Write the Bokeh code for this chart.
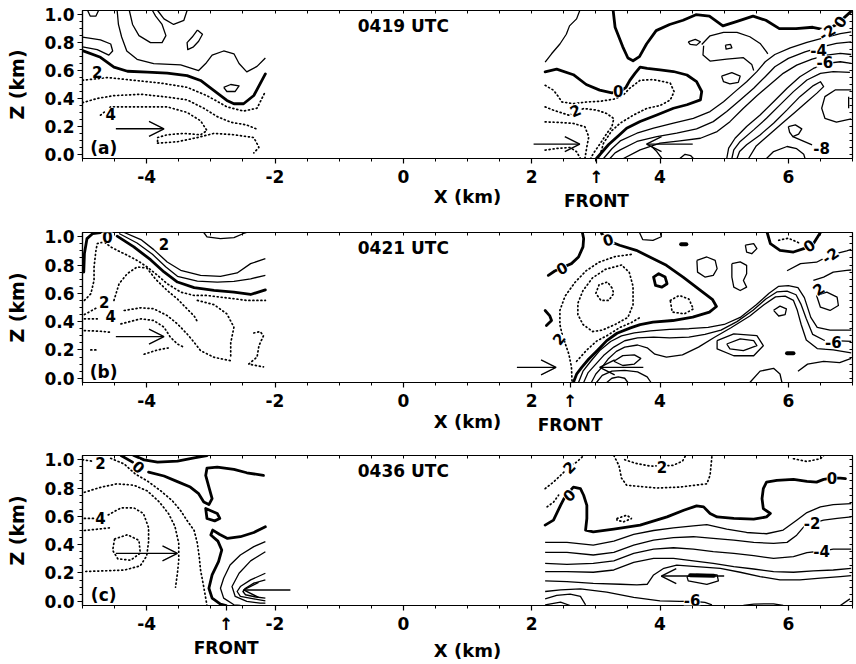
from bokeh.plotting import figure
from bokeh.layouts import column
from bokeh.models import (Range1d, FixedTicker, PrintfTickFormatter, LinearAxis,
                          Arrow, OpenHead, Label, LabelSet, ColumnDataSource)
from bokeh.core.properties import value
from bokeh.embed import file_html
from bokeh.resources import INLINE

FONT = "DejaVu Sans"
X_RANGE = (-5.0, 7.0)
Z_RANGE = (-0.03, 1.03)
X_TICKS = [-4, -2, 0, 2, 4, 6]
X_MINOR = [-5.0, -4.5, -4.0, -3.5, -3.0, -2.5, -2.0, -1.5, -1.0, -0.5, 0.0, 0.5, 1.0,
           1.5, 2.0, 2.5, 3.0, 3.5, 4.0, 4.5, 5.0, 5.5, 6.0, 6.5, 7.0]
Z_TICKS = [0.0, 0.2, 0.4, 0.6, 0.8, 1.0]
Z_MINOR = [0.0, 0.05, 0.1, 0.15, 0.2, 0.25, 0.3, 0.35, 0.4, 0.45, 0.5, 0.55, 0.6,
           0.65, 0.7, 0.75, 0.8, 0.85, 0.9, 0.95, 1.0]
PANEL_TIMES = ["0419 UTC", "0421 UTC", "0436 UTC"]
PANEL_TAGS = ["(a)", "(b)", "(c)"]
FRONT_X = [3.01, 2.60, -2.76]
FRONT_TEXT = "\u2191\nFRONT"

# ---------------- panel (a) 0419 UTC : contours (x km, z km) ----------------
a_zero_left = [(-5.0, 0.743), (-4.72, 0.695), (-4.51, 0.624), (-4.30, 0.595), (-3.99, 0.588),
               (-3.68, 0.581), (-3.37, 0.564), (-3.16, 0.529), (-2.95, 0.457), (-2.75, 0.386),
               (-2.64, 0.362), (-2.49, 0.362), (-2.33, 0.421), (-2.15, 0.576)]
a_zero_right1 = [(2.21, 0.59), (2.39, 0.61), (2.65, 0.57), (2.85, 0.50), (3.06, 0.46), (3.25, 0.44),
                 (3.38, 0.45), (3.47, 0.48), (3.53, 0.53), (3.61, 0.58), (3.69, 0.625), (3.80, 0.615),
                 (4.00, 0.605), (4.21, 0.593), (4.42, 0.568), (4.57, 0.52), (4.65, 0.45), (4.63, 0.39),
                 (4.42, 0.355), (4.21, 0.33), (3.95, 0.282), (3.69, 0.235), (3.48, 0.187), (3.37, 0.14),
                 (3.20, 0.07), (3.01, -0.03)]
a_zero_right2 = [(3.27, 1.03), (3.30, 0.91), (3.42, 0.77), (3.50, 0.69), (3.58, 0.67), (3.68, 0.70),
                 (3.79, 0.79), (3.94, 0.886), (4.15, 0.93), (4.36, 0.96), (4.56, 1.0), (4.77, 0.99),
                 (4.98, 0.92), (5.19, 0.95), (5.45, 0.99), (5.65, 0.96), (5.86, 0.90), (6.12, 0.90),
                 (6.38, 0.91), (6.59, 0.89), (6.75, 0.93), (6.85, 0.97), (6.97, 1.02)]
a_neg_l1 = [(-4.46, 1.03), (-4.44, 0.93), (-4.39, 0.84), (-4.31, 0.74), (-4.15, 0.68), (-3.89, 0.65),
            (-3.47, 0.64), (-3.19, 0.60), (-3.08, 0.65), (-2.98, 0.71), (-2.80, 0.74), (-2.64, 0.72),
            (-2.56, 0.65), (-2.44, 0.59), (-2.28, 0.63), (-2.15, 0.69)]
a_neg_l2 = [(-5.0, 0.77), (-4.77, 0.75), (-4.59, 0.71), (-4.53, 0.74), (-4.56, 0.79), (-4.72, 0.82),
            (-4.87, 0.83), (-5.0, 0.84)]
a_neg_l3 = [(-4.27, 1.03), (-4.22, 0.93), (-4.12, 0.85), (-3.94, 0.80), (-3.76, 0.80), (-3.70, 0.85),
            (-3.76, 0.93), (-3.86, 0.99), (-3.91, 1.03)]
a_neg_l4 = [(-3.83, 1.03), (-3.73, 0.97), (-3.58, 0.93), (-3.42, 0.96), (-3.37, 1.03)]
a_neg_l5 = [(-3.21, 0.89), (-3.13, 0.86), (-3.19, 0.81), (-3.27, 0.77), (-3.36, 0.75), (-3.37, 0.80),
            (-3.29, 0.84), (-3.21, 0.89)]
a_neg_l6 = [(-2.80, 0.48), (-2.69, 0.50), (-2.56, 0.49), (-2.62, 0.45), (-2.75, 0.45), (-2.80, 0.48)]
a_neg_l7 = [(-4.92, 1.03), (-4.88, 0.99), (-4.79, 0.99), (-4.75, 1.03)]
a_neg_r0 = [(2.21, 0.66), (2.31, 0.72), (2.44, 0.79), (2.54, 0.86), (2.59, 0.92), (2.70, 0.97), (2.75, 1.03)]
a_neg_r1 = [(3.12, -0.03), (3.25, 0.04), (3.38, 0.096), (3.64, 0.151), (3.90, 0.187), (4.21, 0.223),
            (4.52, 0.258), (4.78, 0.306), (4.99, 0.377), (5.17, 0.449), (5.35, 0.52), (5.51, 0.592),
            (5.64, 0.663), (5.79, 0.715), (6.03, 0.763), (6.29, 0.801), (6.55, 0.834), (6.81, 0.865),
            (6.98, 0.877)]
a_neg_r2 = [(3.22, -0.03), (3.30, 0.01), (3.38, 0.032), (3.64, 0.092), (3.95, 0.127), (4.26, 0.151),
            (4.57, 0.182), (4.83, 0.234), (5.04, 0.306), (5.25, 0.389), (5.46, 0.473), (5.64, 0.556),
            (5.79, 0.627), (6.00, 0.687), (6.26, 0.734), (6.52, 0.77), (6.75, 0.794), (6.98, 0.806)]
a_neg_r3 = [(3.43, -0.03), (3.69, 0.032), (4.0, 0.08), (4.31, 0.096), (4.63, 0.115), (4.89, 0.163),
            (5.09, 0.234), (5.30, 0.33), (5.51, 0.42), (5.72, 0.501), (5.92, 0.58), (6.13, 0.639),
            (6.37, 0.682), (6.60, 0.711), (6.81, 0.723), (6.98, 0.715)]
a_neg_r4 = [(5.04, -0.03), (5.07, 0.044), (5.17, 0.115), (5.35, 0.199), (5.56, 0.282), (5.77, 0.377),
            (5.98, 0.473), (6.18, 0.556), (6.39, 0.615), (6.60, 0.651), (6.81, 0.663), (6.98, 0.651)]
a_neg_r5 = [(5.12, -0.03), (5.15, 0.032), (5.25, 0.092), (5.46, 0.175), (5.66, 0.258), (5.87, 0.354),
            (6.08, 0.449), (6.29, 0.532), (6.50, 0.58), (6.70, 0.592), (6.96, 0.587)]
a_neg_r6 = [(5.20, -0.03), (5.24, 0.02), (5.35, 0.068), (5.56, 0.139), (5.77, 0.223), (5.98, 0.318),
            (6.18, 0.413), (6.39, 0.492), (6.50, 0.52), (6.55, 0.485), (6.45, 0.44), (6.30, 0.38),
            (6.10, 0.30), (5.90, 0.22), (5.70, 0.14), (5.50, 0.06), (5.38, -0.03)]
a_neg_r7 = [(4.65, 0.787), (4.78, 0.849), (4.99, 0.873), (5.20, 0.873), (5.40, 0.842), (5.56, 0.794),
            (5.66, 0.734), (5.68, 0.72)]
a_neg_r8 = [(4.68, 0.777), (4.67, 0.711), (4.78, 0.668), (5.04, 0.682), (5.30, 0.692), (5.43, 0.644),
            (5.46, 0.60)]
a_neg_r9 = [(4.44, 0.806), (4.55, 0.823), (4.63, 0.806), (4.57, 0.782), (4.47, 0.787), (4.44, 0.806)]
a_neg_r10 = [(4.96, 0.56), (5.12, 0.585), (5.25, 0.56), (5.22, 0.515), (5.09, 0.505), (4.99, 0.52),
             (4.96, 0.56)]
a_neg_r11 = [(5.02, 0.782), (5.10, 0.787), (5.12, 0.763), (5.03, 0.754), (5.02, 0.782)]
a_neg_r12 = [(6.98, 0.461), (6.73, 0.461), (6.57, 0.413), (6.52, 0.33), (6.57, 0.258), (6.75, 0.23),
             (6.98, 0.254)]
a_neg_r13 = [(6.94, 0.413), (6.94, 0.33)]
a_neg_r14 = [(6.0, 0.199), (6.11, 0.211), (6.21, 0.182), (6.16, 0.144), (6.07, 0.127), (6.02, 0.158),
             (6.0, 0.199)]
a_neg_r15 = [(6.07, 0.127), (6.37, 0.068)]
a_neg_r16 = [(5.66, -0.03), (5.77, 0.02), (5.98, 0.056), (6.13, 0.04), (6.24, 0.0), (6.26, -0.03)]
a_neg_r17 = [(4.31, -0.03), (4.39, 0.0), (4.48, -0.01), (4.52, -0.03)]
a_neg_r18 = [(3.87, 0.056), (3.95, 0.02), (4.03, -0.03)]
a_pos_l1 = [(-5.0, 0.53), (-4.61, 0.55), (-4.20, 0.53), (-3.78, 0.51), (-3.37, 0.48), (-3.06, 0.42),
            (-2.75, 0.34), (-2.49, 0.31), (-2.28, 0.33), (-2.15, 0.45)]
a_pos_l2 = [(-5.0, 0.37), (-4.77, 0.40), (-4.51, 0.42), (-4.09, 0.43), (-3.68, 0.41), (-3.37, 0.39),
            (-3.11, 0.33), (-2.90, 0.27), (-2.69, 0.23), (-2.44, 0.21), (-2.28, 0.18)]
a_pos_l3 = [(-4.72, 0.28), (-4.56, 0.34), (-4.30, 0.34), (-3.99, 0.34), (-3.68, 0.34), (-3.37, 0.30),
            (-3.16, 0.24), (-3.06, 0.17), (-3.16, 0.14), (-3.42, 0.15), (-3.68, 0.14), (-3.83, 0.12),
            (-3.83, 0.08)]
a_pos_l4 = [(-3.83, 0.08), (-3.52, 0.09), (-3.21, 0.12), (-2.95, 0.15), (-2.64, 0.14), (-2.33, 0.12),
            (-2.25, 0.05), (-2.33, 0.01)]
a_pos_r1 = [(2.21, 0.494), (2.34, 0.459), (2.42, 0.411), (2.47, 0.375), (2.65, 0.363), (2.86, 0.375),
            (3.07, 0.38), (3.28, 0.395), (3.42, 0.42), (3.52, 0.47), (3.69, 0.53), (3.90, 0.535),
            (4.16, 0.51), (4.22, 0.449), (4.16, 0.389), (4.0, 0.349), (3.80, 0.33), (3.59, 0.282),
            (3.38, 0.223), (3.25, 0.17), (3.12, 0.08), (3.05, -0.03)]
a_pos_r2 = [(2.21, 0.34), (2.34, 0.316), (2.50, 0.292), (2.58, 0.28), (2.81, 0.328), (3.02, 0.316),
            (3.17, 0.292), (3.28, 0.256), (3.25, 0.197), (3.17, 0.149), (3.07, 0.078), (2.96, 0.006),
            (2.92, -0.03)]
a_pos_r3 = [(2.21, 0.232), (2.445, 0.228), (2.65, 0.221), (2.83, 0.197), (2.89, 0.125), (2.86, 0.054),
            (2.83, -0.03)]
a_pos_r4 = [(2.21, 0.03), (2.39, 0.042), (2.60, 0.049), (2.70, 0.018), (2.76, -0.03)]
a_label_text = ["4", "2", "0", "2", "0", "-2", "-4", "-6", "-8"]
a_label_x = [-4.56, -4.77, 3.35, 2.68, 6.80, 6.60, 6.47, 6.57, 6.52]
a_label_z = [0.29, 0.59, 0.45, 0.316, 0.95, 0.875, 0.746, 0.663, 0.044]
a_label_angle = [0.0, 0.0, 0.0, 0.4, 1.0, 0.6, 0.0, 0.0, 0.0]
a_arrows = [(-4.48, 0.183, -3.73, 0.183), (2.03, 0.073, 2.75, 0.073), (4.51, 0.073, 3.79, 0.073)]

# ---------------- panel (b) 0421 UTC ----------------
b_zero_l1 = [(-4.98, 0.751), (-4.97, 0.881), (-4.93, 0.987), (-4.84, 1.023), (-4.72, 1.03)]
b_zero_l2 = [(-4.46, 1.004), (-4.20, 0.928), (-3.94, 0.838), (-3.73, 0.751), (-3.52, 0.680), (-3.26, 0.640),
             (-2.95, 0.621), (-2.64, 0.609), (-2.38, 0.592), (-2.15, 0.625)]
b_zero_r1 = [(2.26, 0.727), (2.36, 0.758), (2.49, 0.785), (2.62, 0.81), (2.73, 0.857), (2.80, 0.928),
             (2.81, 0.987), (2.79, 1.03)]
b_zero_r2 = [(2.21, 0.479), (2.28, 0.443), (2.31, 0.408), (2.23, 0.372)]
b_zero_r3 = [(2.65, -0.03), (2.70, 0.029), (2.78, 0.077), (2.89, 0.136), (3.02, 0.195), (3.17, 0.266),
             (3.33, 0.318), (3.54, 0.356), (3.69, 0.379), (3.89, 0.396), (4.20, 0.408), (4.51, 0.432),
             (4.77, 0.467), (4.88, 0.507), (4.82, 0.555), (4.62, 0.625), (4.36, 0.715), (4.10, 0.798),
             (3.84, 0.857), (3.63, 0.904), (3.37, 0.94), (3.24, 0.963), (3.17, 0.98), (3.09, 1.023)]
b_zero_r4 = [(3.90, 0.715), (3.98, 0.739), (4.08, 0.715), (4.11, 0.668), (4.03, 0.644), (3.93, 0.656),
             (3.90, 0.715)]
b_zero_r5 = [(5.67, 1.03), (5.72, 0.951), (5.87, 0.904), (6.08, 0.892), (6.24, 0.916), (6.39, 0.951),
             (6.50, 1.03)]
b_neg_l1 = [(-4.43, 1.023), (-4.15, 0.956), (-3.91, 0.876), (-3.70, 0.786), (-3.52, 0.72), (-3.21, 0.687),
            (-2.90, 0.68), (-2.64, 0.685), (-2.38, 0.703), (-2.15, 0.727)]
b_neg_l2 = [(-4.35, 1.03), (-4.09, 0.98), (-3.89, 0.909), (-3.68, 0.822), (-3.47, 0.763), (-3.16, 0.727),
            (-2.85, 0.72), (-2.59, 0.744), (-2.38, 0.81), (-2.15, 0.845)]
b_neg_l3 = [(-3.11, 1.03), (-3.06, 0.999), (-2.85, 0.987), (-2.64, 0.994), (-2.49, 1.023), (-2.44, 1.03)]
b_neg_r1 = [(2.73, -0.03), (2.80, 0.05), (2.92, 0.12), (3.07, 0.20), (3.23, 0.26), (3.40, 0.30), (3.60, 0.32),
            (3.85, 0.335), (4.15, 0.345), (4.45, 0.35), (4.75, 0.36), (5.00, 0.38), (5.25, 0.43),
            (5.50, 0.52), (5.70, 0.60), (5.85, 0.65), (6.00, 0.655), (6.15, 0.64), (6.25, 0.57),
            (6.35, 0.43), (6.45, 0.36), (6.65, 0.34), (6.98, 0.34)]
b_neg_r2 = [(2.81, -0.03), (2.88, 0.04), (3.00, 0.10), (3.12, 0.16), (3.28, 0.22), (3.45, 0.265),
            (3.65, 0.285), (3.90, 0.29), (4.15, 0.285), (4.45, 0.29), (4.70, 0.31), (4.95, 0.34),
            (5.20, 0.40), (5.45, 0.48), (5.65, 0.56), (5.82, 0.61), (5.98, 0.615), (6.12, 0.59),
            (6.20, 0.52), (6.28, 0.42), (6.38, 0.31), (6.55, 0.27), (6.98, 0.26)]
b_neg_r3 = [(2.93, -0.03), (3.0, 0.03), (3.10, 0.08), (3.20, 0.14), (3.32, 0.19), (3.45, 0.22), (3.65, 0.235),
            (3.80, 0.215), (3.92, 0.17), (4.10, 0.15), (4.35, 0.165), (4.60, 0.22), (4.85, 0.29),
            (5.10, 0.355), (5.40, 0.44), (5.62, 0.52), (5.80, 0.575), (5.95, 0.58), (6.08, 0.55),
            (6.14, 0.48), (6.20, 0.38), (6.28, 0.27), (6.45, 0.21), (6.70, 0.20), (6.98, 0.18)]
b_neg_r4 = [(3.28, 0.12), (3.42, 0.16), (3.60, 0.165), (3.70, 0.14), (3.60, 0.10), (3.42, 0.09), (3.28, 0.12)]
b_neg_r5 = [(3.01, -0.03), (3.10, 0.02), (3.25, 0.05), (3.45, 0.055), (3.65, 0.045), (3.80, 0.01), (3.86, -0.03)]
b_neg_r6 = [(3.17, -0.03), (3.25, 0.0), (3.35, 0.01), (3.45, 0.0), (3.50, -0.03)]
b_neg_r7 = [(5.04, 0.242), (5.25, 0.278), (5.46, 0.266), (5.51, 0.23), (5.30, 0.195), (5.09, 0.207), (5.04, 0.242)]
b_neg_r8 = [(4.89, 0.266), (5.15, 0.313), (5.51, 0.301), (5.61, 0.23), (5.46, 0.159), (5.15, 0.159),
            (4.89, 0.207), (4.89, 0.266)]
b_neg_r9 = [(5.77, 0.48), (5.87, 0.51), (5.97, 0.49), (5.95, 0.45), (5.85, 0.44), (5.77, 0.48)]
b_neg_r10 = [(4.575, 0.833), (4.73, 0.857), (4.86, 0.833), (4.89, 0.774), (4.83, 0.727), (4.70, 0.715),
             (4.585, 0.75), (4.575, 0.833)]
b_neg_r11 = [(5.12, 0.81), (5.25, 0.822), (5.35, 0.798), (5.35, 0.739), (5.30, 0.691), (5.35, 0.644),
             (5.25, 0.62), (5.15, 0.644), (5.12, 0.715), (5.12, 0.81)]
b_neg_r12 = [(5.33, 0.94), (5.46, 0.951), (5.51, 0.916), (5.43, 0.88), (5.35, 0.892), (5.33, 0.94)]
b_neg_r13 = [(3.68, 1.03), (3.73, 0.98), (3.89, 0.975), (4.02, 1.0), (4.02, 1.03)]
b_neg_r14 = [(5.98, 0.76), (6.19, 0.81), (6.44, 0.82), (6.65, 0.87), (6.91, 0.90), (6.98, 0.91)]
b_neg_r15 = [(6.44, 0.585), (6.60, 0.609), (6.76, 0.573), (6.78, 0.514), (6.65, 0.479), (6.50, 0.502), (6.44, 0.585)]
b_neg_r16 = [(6.39, 0.691), (6.55, 0.715), (6.70, 0.75), (6.91, 0.762), (6.98, 0.765)]
b_neg_r17 = [(6.15, 0.05), (6.30, 0.10), (6.55, 0.12), (6.80, 0.11), (6.98, 0.14)]
b_neg_r18 = [(5.40, -0.03), (5.56, 0.05), (5.77, 0.07), (5.87, 0.03), (5.90, -0.03)]
b_blob1 = [(5.98, 0.176), (6.08, 0.176)]
b_blob2 = [(4.33, 0.947), (4.41, 0.947)]
b_pos_l1 = [(-4.97, 0.55), (-4.87, 0.597), (-4.82, 0.692), (-4.82, 0.786), (-4.79, 0.904), (-4.77, 0.952),
            (-4.66, 0.963), (-4.56, 0.928), (-4.46, 0.904), (-4.30, 0.869), (-4.15, 0.833), (-3.99, 0.786),
            (-3.83, 0.727), (-3.68, 0.668), (-3.47, 0.609), (-3.26, 0.585), (-3.06, 0.585), (-2.85, 0.573),
            (-2.64, 0.562), (-2.44, 0.55), (-2.15, 0.55)]
b_pos_l2 = [(-4.97, 0.45), (-4.77, 0.50)]
b_pos_l3 = [(-4.51, 0.55), (-4.43, 0.668), (-4.30, 0.74), (-4.15, 0.786), (-4.0, 0.78), (-3.86, 0.70),
            (-3.68, 0.62), (-3.52, 0.56), (-3.37, 0.49), (-3.26, 0.44), (-3.21, 0.40)]
b_pos_l4 = [(-4.97, 0.42), (-4.77, 0.42)]
b_pos_l5 = [(-4.35, 0.479), (-4.09, 0.498), (-3.89, 0.491), (-3.68, 0.443), (-3.52, 0.384), (-3.37, 0.313),
            (-3.26, 0.254), (-3.16, 0.195), (-2.95, 0.148), (-2.69, 0.124)]
b_pos_l6 = [(-4.40, 0.384), (-4.09, 0.42), (-3.89, 0.408), (-3.73, 0.361), (-3.63, 0.29), (-3.52, 0.242),
            (-3.42, 0.219)]
b_pos_l7 = [(-4.97, 0.337), (-4.72, 0.332), (-4.56, 0.325)]
b_pos_l8 = [(-4.04, 0.17), (-3.83, 0.20), (-3.65, 0.215)]
b_pos_l9 = [(-3.21, 0.55), (-2.95, 0.52), (-2.75, 0.455), (-2.64, 0.361), (-2.69, 0.25), (-2.69, 0.15)]
b_pos_l10 = [(-2.33, 0.32), (-2.23, 0.33), (-2.18, 0.30), (-2.25, 0.23), (-2.28, 0.15), (-2.41, 0.10), (-2.18, 0.08)]
b_pos_l11 = [(-4.87, 0.20), (-4.77, 0.20)]
b_pos_r1 = [(2.70, 0.12), (2.86, 0.20), (3.02, 0.265), (3.17, 0.30), (3.38, 0.36), (3.56, 0.395), (3.69, 0.43)]
b_pos_r2 = [(3.55, 0.875), (3.30, 0.86), (3.05, 0.82), (2.85, 0.76), (2.68, 0.68), (2.52, 0.58), (2.44, 0.48),
            (2.44, 0.38), (2.47, 0.32), (2.52, 0.25), (2.58, 0.17), (2.62, 0.08), (2.63, -0.03)]
b_pos_r3 = [(3.40, 0.80), (3.15, 0.77), (2.95, 0.71), (2.80, 0.62), (2.72, 0.53), (2.72, 0.45), (2.80, 0.38),
            (2.95, 0.33), (3.10, 0.34), (3.30, 0.38), (3.50, 0.43), (3.58, 0.52), (3.58, 0.65), (3.52, 0.75),
            (3.40, 0.80)]
b_pos_r4 = [(3.25, 0.64), (3.18, 0.68), (3.05, 0.66), (3.00, 0.60), (3.08, 0.55), (3.20, 0.55), (3.28, 0.60),
            (3.25, 0.64)]
b_pos_r5 = [(4.16, 0.55), (4.30, 0.585), (4.45, 0.56), (4.52, 0.49), (4.38, 0.455), (4.19, 0.468), (4.16, 0.55)]
b_pos_r6 = [(5.85, 0.975), (6.0, 0.99), (6.2, 0.95)]
b_label_text = ["0", "2", "4", "2", "0", "2", "0", "0", "-2", "2", "-6"]
b_label_x = [-4.61, -4.66, -4.56, -3.73, 2.47, 2.42, 3.19, 6.32, 6.65, 6.47, 6.70]
b_label_z = [1.0, 0.538, 0.443, 0.95, 0.78, 0.28, 0.98, 0.94, 0.87, 0.632, 0.254]
b_label_angle = [0.0, 0.0, 0.0, 0.0, 0.5, 0.9, 0.3, 0.6, 0.6, 0.6, 0.0]
b_arrows = [(-4.48, 0.294, -3.73, 0.294), (1.77, 0.077, 2.38, 0.077), (3.74, 0.077, 3.06, 0.077)]

# ---------------- panel (c) 0436 UTC ----------------
c_zero_l1 = [(-4.40, 1.03), (-4.22, 0.983)]
c_zero_l2 = [(-4.20, 1.03), (-4.04, 0.999), (-3.83, 0.983), (-3.52, 0.99), (-3.26, 1.013), (-3.06, 1.03)]
c_zero_l3 = [(-3.97, 0.913), (-3.73, 0.885), (-3.53, 0.847), (-3.32, 0.807), (-3.19, 0.76), (-3.11, 0.702),
             (-3.03, 0.683), (-2.98, 0.725), (-3.03, 0.807), (-3.08, 0.889), (-3.06, 0.941), (-2.90, 0.948),
             (-2.64, 0.932), (-2.44, 0.908), (-2.18, 0.889)]
c_zero_l4 = [(-3.08, 0.655), (-2.90, 0.62), (-2.86, 0.585), (-2.94, 0.568), (-3.06, 0.585), (-3.08, 0.655)]
c_zero_l5 = [(-2.15, 0.526), (-2.33, 0.486), (-2.54, 0.456), (-2.74, 0.444), (-2.86, 0.472), (-2.97, 0.503),
             (-3.0, 0.468), (-2.89, 0.425), (-2.83, 0.362), (-2.88, 0.28), (-2.98, 0.186), (-3.03, 0.092),
             (-2.98, 0.022), (-2.85, -0.02), (-2.76, -0.03)]
c_zero_r1 = [(2.21, 0.538), (2.34, 0.573), (2.45, 0.678), (2.52, 0.74), (2.65, 0.807), (2.76, 0.796),
             (2.81, 0.749), (2.86, 0.678), (2.86, 0.585), (2.84, 0.503), (2.96, 0.491), (3.28, 0.51),
             (3.69, 0.538), (4.11, 0.596), (4.37, 0.643), (4.57, 0.674), (4.68, 0.667), (4.78, 0.62),
             (4.89, 0.596), (5.15, 0.585), (5.46, 0.58), (5.66, 0.596), (5.72, 0.62), (5.61, 0.655),
             (5.59, 0.725), (5.61, 0.796), (5.66, 0.842), (5.82, 0.854), (6.08, 0.861), (6.29, 0.847),
             (6.44, 0.842), (6.55, 0.861), (6.68, 0.87), (6.81, 0.87), (6.89, 0.866)]
c_neg_l1 = [(-2.15, 0.421), (-2.33, 0.386), (-2.54, 0.327), (-2.70, 0.256), (-2.80, 0.163), (-2.85, 0.092),
            (-2.80, 0.022), (-2.64, -0.025), (-2.54, -0.03)]
c_neg_l2 = [(-2.15, 0.35), (-2.38, 0.285), (-2.56, 0.198), (-2.67, 0.104), (-2.62, 0.034), (-2.44, -0.001),
            (-2.23, -0.013), (-2.15, -0.013)]
c_neg_l3 = [(-2.15, 0.198), (-2.38, 0.151), (-2.54, 0.104), (-2.59, 0.069), (-2.54, 0.034), (-2.33, 0.017),
            (-2.15, 0.003)]
c_neg_l4 = [(-2.15, 0.151), (-2.33, 0.128), (-2.46, 0.092), (-2.50, 0.069), (-2.46, 0.046), (-2.30, 0.030),
            (-2.15, 0.022)]
c_neg_r1 = [(2.21, 0.416), (2.55, 0.416), (2.96, 0.397), (3.28, 0.425), (3.59, 0.472), (3.90, 0.50),
            (4.21, 0.519), (4.52, 0.533), (4.73, 0.542), (5.04, 0.51), (5.35, 0.486), (5.66, 0.477),
            (5.92, 0.503), (6.13, 0.573), (6.29, 0.627), (6.50, 0.667), (6.70, 0.683), (6.98, 0.69)]
c_neg_r2 = [(2.21, 0.346), (2.55, 0.346), (2.96, 0.327), (3.28, 0.346), (3.59, 0.397), (3.90, 0.432),
            (4.21, 0.449), (4.52, 0.456), (4.83, 0.444), (5.15, 0.432), (5.46, 0.416), (5.77, 0.409),
            (5.98, 0.416), (6.13, 0.467), (6.24, 0.526), (6.37, 0.55), (6.55, 0.573), (6.76, 0.585),
            (6.98, 0.596)]
c_neg_r3 = [(2.21, 0.268), (2.55, 0.261), (2.96, 0.268), (3.28, 0.285), (3.59, 0.338), (3.90, 0.369),
            (4.21, 0.378), (4.52, 0.369), (4.83, 0.35), (5.15, 0.338), (5.46, 0.322), (5.77, 0.303),
            (6.08, 0.315), (6.29, 0.343), (6.52, 0.355), (6.70, 0.369), (6.98, 0.369)]
c_neg_r4 = [(2.21, 0.21), (2.55, 0.21), (2.96, 0.205), (3.28, 0.221), (3.59, 0.275), (3.90, 0.303),
            (4.21, 0.303), (4.52, 0.285), (4.83, 0.268), (5.15, 0.245), (5.46, 0.228), (5.77, 0.21),
            (6.08, 0.205), (6.39, 0.214), (6.70, 0.221), (6.98, 0.233)]
c_neg_r5 = [(2.21, 0.144), (2.55, 0.139), (2.96, 0.127), (3.38, 0.12), (3.64, 0.116), (3.80, 0.12),
            (3.90, 0.186), (4.06, 0.233), (4.26, 0.256), (4.57, 0.245), (4.94, 0.233), (5.25, 0.205),
            (5.56, 0.174), (5.87, 0.151), (6.18, 0.151), (6.50, 0.163), (6.81, 0.174), (6.98, 0.181)]
c_neg_r6 = [(2.21, 0.069), (2.45, 0.081), (2.76, 0.088), (3.17, 0.064), (3.59, 0.027), (4.0, 0.003),
            (4.31, -0.001), (4.50, 0.0), (4.70, -0.008), (4.81, -0.025)]
c_neg_r7 = [(2.21, 0.017), (2.39, 0.041), (2.60, 0.05), (2.76, 0.034), (2.84, -0.025)]
c_neg_r8 = [(2.21, -0.025), (2.45, -0.006), (2.60, -0.03)]
c_neg_r9 = [(5.30, -0.03), (5.46, -0.02), (5.77, -0.018), (5.92, -0.03)]
c_neg_r10 = [(6.81, -0.03), (6.96, 0.017)]
c_neg_r11 = [(4.42, 0.174), (4.57, 0.19), (4.89, 0.186), (4.91, 0.144), (4.73, 0.12), (4.44, 0.144), (4.42, 0.174)]
c_blob1 = [(4.47, 0.183), (4.84, 0.180)]
c_pos_l1 = [(-4.56, 1.01), (-4.35, 0.97), (-4.18, 0.90), (-3.99, 0.85), (-3.78, 0.78), (-3.60, 0.71),
            (-3.47, 0.64), (-3.37, 0.57), (-3.26, 0.50), (-3.21, 0.41), (-3.18, 0.31), (-3.16, 0.22),
            (-3.11, 0.10), (-3.06, -0.03)]
c_pos_l2 = [(-5.0, 1.0), (-4.85, 0.99)]
c_pos_l3 = [(-4.97, 0.77), (-4.72, 0.805), (-4.46, 0.83), (-4.20, 0.82), (-3.99, 0.78), (-3.80, 0.70),
            (-3.66, 0.62), (-3.56, 0.53), (-3.50, 0.41), (-3.50, 0.29), (-3.52, 0.20), (-3.55, 0.10)]
c_pos_l4 = [(-4.97, 0.585), (-4.82, 0.585)]
c_pos_l5 = [(-4.60, 0.61), (-4.40, 0.66), (-4.20, 0.66), (-4.05, 0.62), (-3.97, 0.52), (-3.97, 0.42),
            (-4.00, 0.32), (-4.10, 0.25), (-4.35, 0.22), (-4.65, 0.215), (-4.97, 0.21)]
c_pos_l6 = [(-4.50, 0.44), (-4.30, 0.47), (-4.12, 0.43), (-4.10, 0.34), (-4.25, 0.29), (-4.45, 0.30),
            (-4.53, 0.36), (-4.50, 0.44)]
c_pos_l7 = [(-4.97, 0.50), (-4.75, 0.51), (-4.55, 0.52)]
c_pos_r1 = [(2.21, 0.796), (2.34, 0.842), (2.45, 0.889), (2.58, 0.948), (2.70, 0.983), (2.81, 1.03)]
c_pos_r2 = [(2.24, 0.667), (2.34, 0.70), (2.42, 0.75)]
c_pos_r3 = [(3.28, 1.03), (3.36, 0.96), (3.40, 0.87), (3.48, 0.82), (3.95, 0.80), (4.31, 0.807),
            (4.73, 0.83), (4.78, 0.89), (4.80, 0.98), (4.81, 1.03)]
c_pos_r4 = [(3.45, 1.0), (3.62, 0.975), (3.85, 0.955), (4.20, 0.96), (4.35, 0.99), (4.40, 1.03)]
c_pos_r5 = [(6.08, 1.007), (6.29, 0.988), (6.50, 1.007), (6.55, 1.03)]
c_pos_r6 = [(3.33, 0.585), (3.48, 0.608), (3.56, 0.585), (3.43, 0.561), (3.33, 0.573), (3.33, 0.585)]
c_label_text = ["2", "0", "4", "2", "0", "2", "0", "-2", "-4", "-6"]
c_label_x = [-4.72, -4.12, -4.72, 2.58, 2.58, 4.03, 6.68, 6.37, 6.52, 4.50]
c_label_z = [0.98, 0.95, 0.585, 0.948, 0.75, 0.948, 0.87, 0.55, 0.355, 0.01]
c_label_angle = [0.0, -0.7, 0.0, 0.8, 0.8, 0.0, 0.0, 0.0, 0.0, 0.0]
c_arrows = [(-4.48, 0.338, -3.52, 0.338), (-1.76, 0.08, -2.49, 0.08), (5.0, 0.178, 4.02, 0.178)]

# grouping by line style
A_THICK = [a_zero_left, a_zero_right1, a_zero_right2]
A_THIN = [a_neg_l1, a_neg_l2, a_neg_l3, a_neg_l4, a_neg_l5, a_neg_l6, a_neg_l7, a_neg_r0, a_neg_r1,
          a_neg_r2, a_neg_r3, a_neg_r4, a_neg_r5, a_neg_r6, a_neg_r7, a_neg_r8, a_neg_r9, a_neg_r10,
          a_neg_r11, a_neg_r12, a_neg_r13, a_neg_r14, a_neg_r15, a_neg_r16, a_neg_r17, a_neg_r18]
A_DOT = [a_pos_l1, a_pos_l2, a_pos_l3, a_pos_l4, a_pos_r1, a_pos_r2, a_pos_r3, a_pos_r4]
A_BLOB = []
B_THICK = [b_zero_l1, b_zero_l2, b_zero_r1, b_zero_r2, b_zero_r3, b_zero_r4, b_zero_r5]
B_THIN = [b_neg_l1, b_neg_l2, b_neg_l3, b_neg_r1, b_neg_r2, b_neg_r3, b_neg_r4, b_neg_r5, b_neg_r6,
          b_neg_r7, b_neg_r8, b_neg_r9, b_neg_r10, b_neg_r11, b_neg_r12, b_neg_r13, b_neg_r14,
          b_neg_r15, b_neg_r16, b_neg_r17, b_neg_r18]
B_DOT = [b_pos_l1, b_pos_l2, b_pos_l3, b_pos_l4, b_pos_l5, b_pos_l6, b_pos_l7, b_pos_l8, b_pos_l9,
         b_pos_l10, b_pos_l11, b_pos_r1, b_pos_r2, b_pos_r3, b_pos_r4, b_pos_r5, b_pos_r6]
B_BLOB = [b_blob1, b_blob2]
C_THICK = [c_zero_l1, c_zero_l2, c_zero_l3, c_zero_l4, c_zero_l5, c_zero_r1]
C_THIN = [c_neg_l1, c_neg_l2, c_neg_l3, c_neg_l4, c_neg_r1, c_neg_r2, c_neg_r3, c_neg_r4, c_neg_r5,
          c_neg_r6, c_neg_r7, c_neg_r8, c_neg_r9, c_neg_r10, c_neg_r11]
C_DOT = [c_pos_l1, c_pos_l2, c_pos_l3, c_pos_l4, c_pos_l5, c_pos_l6, c_pos_l7, c_pos_r1, c_pos_r2,
         c_pos_r3, c_pos_r4, c_pos_r5, c_pos_r6]
C_BLOB = [c_blob1]


def xs_zs(lines):
    return [[pt[0] for pt in ln] for ln in lines], [[pt[1] for pt in ln] for ln in lines]


def build(idx, thick, thin, dot, blob, ltext, lx, lz, lang, arrows, height, top, bottom, xlab_standoff):
    p = figure(width=854, height=height, x_range=Range1d(*X_RANGE), y_range=Range1d(*Z_RANGE),
               output_backend="svg", toolbar_location=None,
               min_border_left=82, min_border_right=2, min_border_top=top, min_border_bottom=bottom)
    p.grid.visible = False
    p.outline_line_color = "black"
    p.outline_line_width = 1.2
    p.background_fill_color = "white"
    p.border_fill_color = "white"

    # bottom axis: numbers, plus the front marker under its position
    fx = FRONT_X[idx]
    p.xaxis.ticker = FixedTicker(ticks=X_TICKS + [fx], minor_ticks=X_MINOR)
    p.xaxis.formatter = PrintfTickFormatter(format="%d")
    p.xaxis.major_label_overrides = {fx: FRONT_TEXT}
    p.xaxis.axis_label = "X (km)"
    p.yaxis.ticker = FixedTicker(ticks=Z_TICKS, minor_ticks=Z_MINOR)
    p.yaxis.formatter = PrintfTickFormatter(format="%.1f")
    p.yaxis.axis_label = "Z (km)"
    for ax in (p.xaxis[0], p.yaxis[0]):
        ax.major_label_text_font = FONT
        ax.major_label_text_font_style = "bold"
        ax.major_label_text_color = "black"
        ax.axis_label_text_font = FONT
        ax.axis_label_text_font_style = "bold"
        ax.axis_label_text_color = "black"
        ax.major_tick_out = 5
        ax.major_tick_in = 0
        ax.minor_tick_out = 3
        ax.minor_tick_in = 0
        ax.axis_line_width = 1.2
        ax.major_tick_line_width = 1.2
    p.xaxis.major_label_text_font_size = "17px"
    p.yaxis.major_label_text_font_size = "17px"
    p.xaxis.axis_label_text_font_size = "18px"
    p.yaxis.axis_label_text_font_size = "19px"
    p.xaxis.major_label_standoff = 3
    p.xaxis.axis_label_standoff = xlab_standoff
    p.yaxis.major_label_standoff = 3
    p.yaxis.axis_label_standoff = 13

    # mirrored minor ticks on top and right (no labels)
    top_ax = LinearAxis(ticker=FixedTicker(ticks=[], minor_ticks=X_MINOR), major_label_standoff=0,
                        major_tick_in=0, major_tick_out=0, minor_tick_in=3, minor_tick_out=0,
                        axis_line_color=None)
    right_ax = LinearAxis(ticker=FixedTicker(ticks=[], minor_ticks=Z_MINOR), major_label_standoff=0,
                          major_tick_in=0, major_tick_out=0, minor_tick_in=3, minor_tick_out=0,
                          axis_line_color=None)
    p.add_layout(top_ax, "above")
    p.add_layout(right_ax, "right")

    # contours
    xs, zs = xs_zs(dot)
    p.multi_line(xs=xs, ys=zs, line_color="black", line_width=1.7, line_dash="1 3", line_cap="round")
    xs, zs = xs_zs(thin)
    p.multi_line(xs=xs, ys=zs, line_color="black", line_width=1.3, line_join="round")
    xs, zs = xs_zs(thick)
    p.multi_line(xs=xs, ys=zs, line_color="black", line_width=2.8, line_join="round", line_cap="round")
    if blob:
        xs, zs = xs_zs(blob)
        p.multi_line(xs=xs, ys=zs, line_color="black", line_width=4, line_cap="round")

    src = ColumnDataSource(dict(x=lx, y=lz, text=ltext, angle=lang))
    labels = LabelSet(x="x", y="y", text="text", angle="angle", source=src,
                      text_font=value(FONT), text_font_style="bold", text_font_size="15px",
                      text_align="center", text_baseline="middle", text_color="black",
                      background_fill_color="white")
    p.add_layout(labels)

    for (x0, z0, x1, z1) in arrows:
        p.add_layout(Arrow(x_start=x0, y_start=z0, x_end=x1, y_end=z1, line_width=1.4,
                           end=OpenHead(size=15, line_width=1.4)))

    p.add_layout(Label(x=0.0, y=0.92, text=PANEL_TIMES[idx], text_font=FONT, text_font_style="bold",
                       text_font_size="17px", text_align="center", text_baseline="middle",
                       text_color="black"))
    p.add_layout(Label(x=-4.67, y=0.045, text=PANEL_TAGS[idx], text_font=FONT, text_font_style="bold",
                       text_font_size="17px", text_align="center", text_baseline="middle",
                       text_color="black"))
    return p


pa = build(0, A_THICK, A_THIN, A_DOT, A_BLOB, a_label_text, a_label_x, a_label_z, a_label_angle,
           a_arrows, 222, 10, 64, -28)
pb = build(1, B_THICK, B_THIN, B_DOT, B_BLOB, b_label_text, b_label_x, b_label_z, b_label_angle,
           b_arrows, 224, 10, 64, -27)
pc = build(2, C_THICK, C_THIN, C_DOT, C_BLOB, c_label_text, c_label_x, c_label_z, c_label_angle,
           c_arrows, 217, 9, 57, -21)

layout = column(pa, pb, pc, spacing=0)
open("out.html", "w").write(file_html(layout, INLINE))
